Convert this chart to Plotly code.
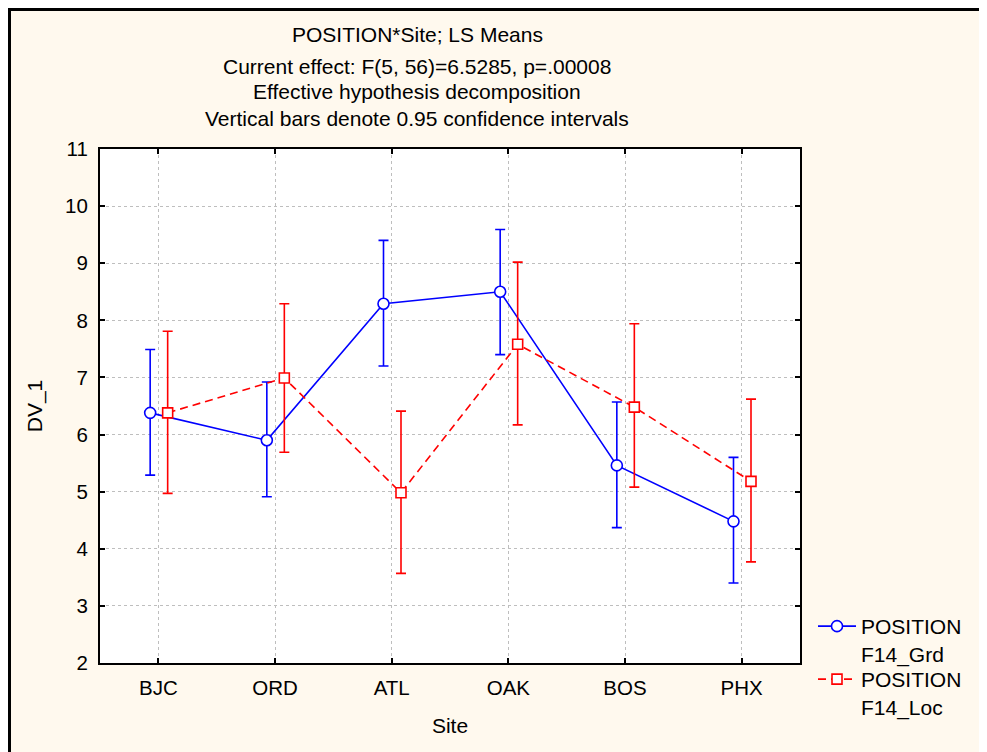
import plotly.graph_objects as go

sites = ["BJC", "ORD", "ATL", "OAK", "BOS", "PHX"]

grd_name = "POSITION<br>F14_Grd"
grd_mean = [6.38, 5.90, 8.29, 8.50, 5.46, 4.48]
grd_low = [5.29, 4.91, 7.20, 7.40, 4.37, 3.40]
grd_high = [7.49, 6.92, 9.40, 9.59, 6.57, 5.60]

loc_name = "POSITION<br>F14_Loc"
loc_mean = [6.38, 6.99, 4.98, 7.58, 6.48, 5.18]
loc_low = [4.97, 5.69, 3.57, 6.17, 5.08, 3.77]
loc_high = [7.81, 8.29, 6.41, 9.02, 7.94, 6.62]

title_lines = [
    "POSITION*Site; LS Means",
    "Current effect: F(5, 56)=6.5285, p=.00008",
    "Effective hypothesis decomposition",
    "Vertical bars denote 0.95 confidence intervals",
]
x_title = "Site"
y_title = "DV_1"
y_range = [2, 11]

FONT = "Arial, 'Liberation Sans', sans-serif"
OFF = 8  # page body margin
W, H = 987 - OFF, 752 - OFF
# plot area in page pixels: x 100..800, y 149..663
L, T = 100 - OFF, 149 - OFF
R, B = W - (800 - OFF), H - (663 - OFF)
PW, PH = W - L - R, H - T - B

def px_x(p):  # page pixel -> paper x
    return (p - OFF - L) / PW

def px_y(p):  # page pixel -> paper y
    return (H - B - (p - OFF)) / PH

idx = list(range(len(sites)))
grd_x = [i - 0.07 for i in idx]
loc_x = [i + 0.08 for i in idx]

fig = go.Figure()
fig.add_trace(go.Scatter(
    x=grd_x, y=grd_mean, name=grd_name, mode="lines+markers", legend="legend", showlegend=True,
    line=dict(color="#0000FF", width=1.6),
    marker=dict(symbol="circle", size=11, color="white", line=dict(color="#0000FF", width=1.6)),
    error_y=dict(type="data", symmetric=False,
                 array=[h - m for h, m in zip(grd_high, grd_mean)],
                 arrayminus=[m - l for m, l in zip(grd_mean, grd_low)],
                 color="#0000FF", thickness=1.6, width=5),
))
fig.add_trace(go.Scatter(
    x=loc_x, y=loc_mean, name=loc_name, mode="lines+markers", legend="legend2", showlegend=True,
    line=dict(color="#FF0000", width=1.6, dash="8px,5px"),
    marker=dict(symbol="square", size=10, color="white", line=dict(color="#FF0000", width=1.6)),
    error_y=dict(type="data", symmetric=False,
                 array=[h - m for h, m in zip(loc_high, loc_mean)],
                 arrayminus=[m - l for m, l in zip(loc_mean, loc_low)],
                 color="#FF0000", thickness=1.6, width=5),
))

annotations = []
for text, yc in zip(title_lines, [35, 67, 92, 118]):
    annotations.append(dict(text=text, xref="paper", yref="paper", x=px_x(417), y=px_y(yc),
                            xanchor="center", yanchor="middle", showarrow=False,
                            font=dict(family=FONT, size=21, color="black")))

shapes = [
    dict(type="rect", xref="paper", yref="paper",
         x0=px_x(OFF + 1.5), x1=px_x(1010), y0=px_y(790), y1=px_y(OFF + 1.5),
         fillcolor="rgba(0,0,0,0)", line=dict(color="black", width=3)),
]

axis_common = dict(
    showline=True, linecolor="black", linewidth=2, mirror="ticks",
    ticks="inside", ticklen=5, tickwidth=1.5, tickcolor="black",
    showgrid=True, gridcolor="#BEBEBE", gridwidth=1, griddash="dot",
    zeroline=False, tickfont=dict(family=FONT, size=20.5, color="black"),
)

legend_common = dict(xanchor="left", yanchor="top", bgcolor="rgba(0,0,0,0)", borderwidth=0,
                     valign="top", itemwidth=38, visible=True,
                     font=dict(family=FONT, size=21, color="black"))

fig.update_layout(
    width=W, height=H, showlegend=True,
    margin=dict(l=L, r=R, t=T, b=B, autoexpand=False),
    paper_bgcolor="#FFF9EE", plot_bgcolor="white",
    font=dict(family=FONT, size=21, color="black"),
    xaxis=dict(range=[-0.5, 5.5], tickvals=idx, ticktext=sites, ticklabelstandoff=5,
               title=dict(text=x_title, font=dict(family=FONT, size=21), standoff=21),
               **axis_common),
    yaxis=dict(range=y_range, dtick=1, tick0=0, ticklabelstandoff=6,
               title=dict(text=y_title, font=dict(family=FONT, size=21), standoff=17),
               **axis_common),
    legend=dict(x=px_x(813), y=px_y(606), **legend_common),
    legend2=dict(x=px_x(813), y=px_y(659), **legend_common),
    annotations=annotations,
    shapes=shapes,
)

fig.write_html("out.html")
